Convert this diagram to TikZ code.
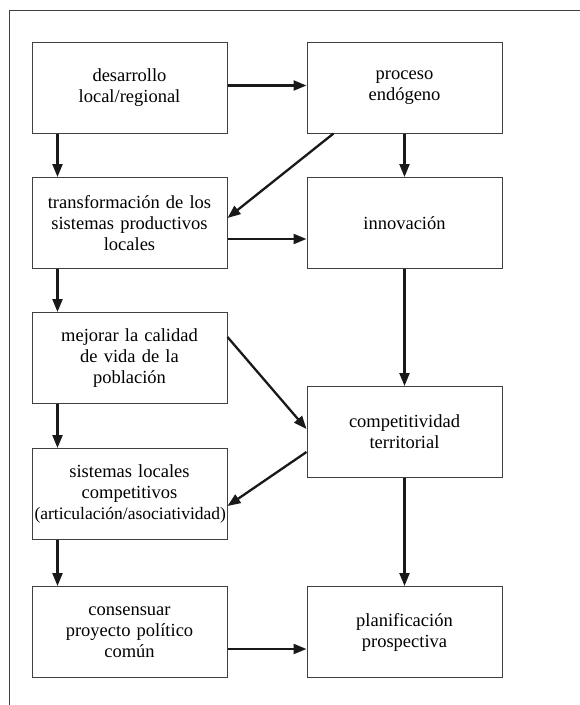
\documentclass[tikz,border=0pt]{standalone}
\usepackage{fontspec}
\setmainfont{Liberation Serif}
\usetikzlibrary{arrows.meta}

\begin{document}
\begin{tikzpicture}[
    x = 1pt, y = -1pt,
    caja/.style = {shape = rectangle, draw = black!75, line width = 1pt, minimum width = 195pt, minimum height = 91pt, text width = 190pt, align = center, inner sep = 0pt, font = \fontsize{18.5}{21}\selectfont},
    flecha/.style = {-{Triangle[length = 13pt, width = 10pt]}, line width = 2.3pt, draw = black!90},
    ]
    \useasboundingbox (0,0) rectangle (580,705);
    \draw[black!75, line width = 1pt] (9,705) -- (9,10) -- (580,10);

    \node[caja] (desarrollo) at (129.5, 87.5) {desarrollo\\local/regional};
    \node[caja] (proceso) at (404.5, 87.5) {proceso\\endógeno};
    \node[caja] (transf) at (129.5, 223) {transformación de los\\sistemas productivos\\locales};
    \node[caja] (innov) at (404.5, 223) {innovación};
    \node[caja] (mejorar) at (129.5, 358) {mejorar la calidad\\de vida de la\\población};
    \node[caja] (compet) at (404.5, 432) {competitividad\\territorial};
    \node[caja] (sistemas) at (129.5, 494) {sistemas locales\\competitivos\\{\fontsize{17.5}{19}\selectfont(articulación/asociatividad)}};
    \node[caja] (consensuar) at (129.5, 632) {consensuar\\proyecto político\\común};
    \node[caja] (planif) at (404.5, 632) {planificación\\prospectiva};

    \draw[flecha] ([yshift = 2pt]desarrollo.east) -- ([yshift = 2pt]proceso.west);
    \draw[flecha] ([xshift = 26pt]desarrollo.south west) -- ([xshift = 26pt]transf.north west);
    \draw[flecha] (proceso.south) -- (innov.north);
    \draw[flecha] ([xshift = 27pt]proceso.south west) -- ([yshift = 5pt]transf.east);
    \draw[flecha] ([yshift = -16pt]transf.east) -- ([yshift = -16pt]innov.west);
    \draw[flecha] ([xshift = 26pt]transf.south west) -- ([xshift = 26pt]mejorar.north west);
    \draw[flecha] (innov.south) -- (compet.north);
    \draw[flecha] ([yshift = 21pt]mejorar.east) -- ([yshift = 3pt]compet.west);
    \draw[flecha] ([xshift = 26pt]mejorar.south west) -- ([xshift = 26pt]sistemas.north west);
    \draw[flecha] ([yshift = -20pt]compet.west) -- ([yshift = -12pt]sistemas.east);
    \draw[flecha] ([xshift = 26pt]sistemas.south west) -- ([xshift = 26pt]consensuar.north west);
    \draw[flecha] (compet.south) -- (planif.north);
    \draw[flecha] ([yshift = -17pt]consensuar.east) -- ([yshift = -17pt]planif.west);
\end{tikzpicture}
\end{document}
